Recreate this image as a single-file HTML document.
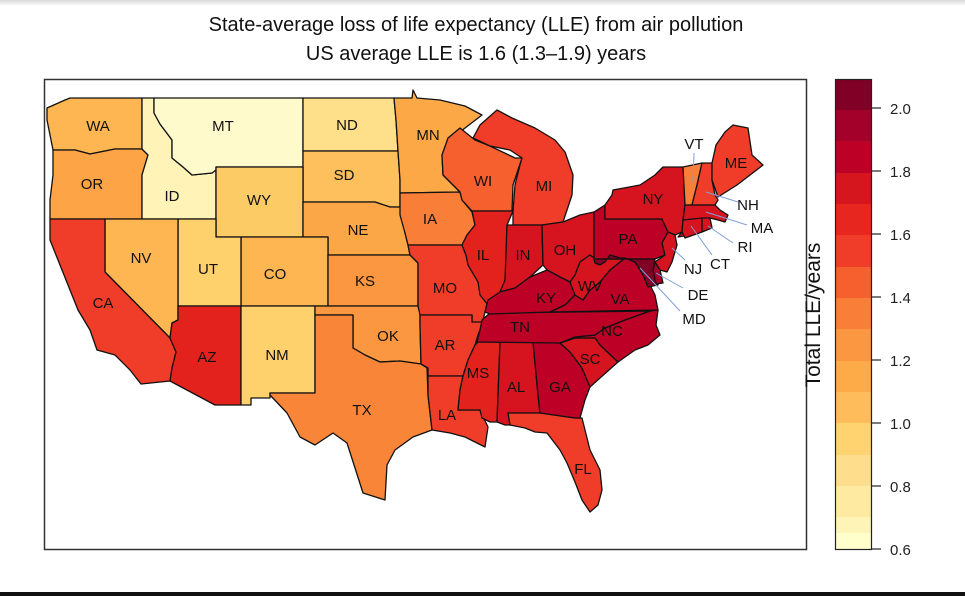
<!DOCTYPE html>
<html><head><meta charset="utf-8"><style>
html,body{margin:0;padding:0;background:#fff;}
body{width:965px;height:596px;overflow:hidden;position:relative;}
svg{position:absolute;left:0;top:0;}
</style></head><body>
<svg width="965" height="596" viewBox="0 0 965 596" xmlns="http://www.w3.org/2000/svg">
<defs><linearGradient id="tg" x1="0" y1="0" x2="0" y2="1"><stop offset="0" stop-color="#d8d8d8"/><stop offset="1" stop-color="#fff"/></linearGradient></defs>
<rect x="0" y="0" width="965" height="6" fill="url(#tg)"/>
<rect x="0" y="592" width="965" height="4" fill="#111"/>
<g font-family="Liberation Sans, sans-serif" font-size="20" text-anchor="middle" fill="#111">
<text x="476" y="31">State-average loss of life expectancy (LLE) from air pollution</text>
<text x="476" y="60">US average LLE is 1.6 (1.3–1.9) years</text>
</g>
<rect x="44.5" y="79.5" width="762" height="470" fill="#fff" stroke="#333" stroke-width="1.5"/>
<g stroke="#111" stroke-width="1.3" stroke-linejoin="round">
<polygon fill="#fdb651" points="47,108 65,100 70,98 142,98 142,149 115,149 90,154 75,150 53,150 50,135 47,120"/>
<polygon fill="#fca446" points="53,150 75,150 90,154 115,149 142,149 148,155 142,175 142,219 50,219 50,200 53,175"/>
<polygon fill="#fff3b8" points="142,98 154,98 154,113 160,124 172,140 172,158 183,167 192,175 212,173 216,170 216,219 142,219 142,175 148,155 142,149"/>
<polygon fill="#fffacc" points="154,98 303,98 303,167 216,167 216,170 212,173 192,175 183,167 172,158 172,140 160,124 154,113"/>
<polygon fill="#fee08b" points="303,98 394,98 396,120 398,151 303,151"/>
<polygon fill="#fdc05c" points="303,151 398,151 400,180 400,207 390,207 375,202 303,202"/>
<polygon fill="#fdcb66" points="216,167 303,167 303,237 216,237"/>
<polygon fill="#fca747" points="303,202 375,202 390,207 400,207 405,233 408,245 410,255 328,255 328,237 303,237"/>
<polygon fill="#fdb651" points="241,237 328,237 328,306 241,306"/>
<polygon fill="#fed16c" points="178,219 216,219 216,237 241,237 241,306 178,306"/>
<polygon fill="#fdb651" points="105,219 178,219 178,320 172,323 170,338 105,272"/>
<polygon fill="#f03d29" points="50,219 105,219 105,272 170,338 176,352 172,368 170,381 141,384 130,370 115,355 97,350 90,330 78,310 70,290 58,260 50,240"/>
<polygon fill="#e3221e" points="170,338 172,323 178,320 178,306 241,306 241,405 215,405 170,381 172,368 176,352"/>
<polygon fill="#fed16c" points="241,306 315,306 315,393 270,393 270,398 251,398 251,405 241,405"/>
<polygon fill="#fb9740" points="328,255 410,255 418,263 418,306 328,306"/>
<polygon fill="#fb9740" points="315,306 420,306 420,325 421,364 400,361 380,362 365,355 353,348 353,315 315,315"/>
<polygon fill="#f98538" points="270,393 315,393 315,315 353,315 353,348 365,355 380,362 400,361 421,364 427,368 428,395 432,430 413,437 395,450 387,465 385,500 363,493 347,443 333,433 315,445 300,437 287,413 270,395"/>
<polygon fill="#fca847" points="394,98 412,98 413,90 417,98 440,100 465,106 482,115 452,138 442,155 443,175 460,192 400,193 400,180 398,151 396,120"/>
<polygon fill="#f97f38" points="400,193 460,192 462,200 472,212 475,225 467,235 462,245 408,245 405,233 400,215"/>
<polygon fill="#f03d29" points="408,245 462,245 467,258 478,282 488,300 485,312 482,325 472,325 472,315 420,315 418,306 418,263 410,255"/>
<polygon fill="#f03d29" points="420,315 472,315 472,322 483,322 478,335 475,345 468,360 463,376 428,376 428,368 421,364 420,325"/>
<polygon fill="#f03d29" points="428,376 463,376 460,390 458,410 480,410 488,427 485,447 465,437 450,433 432,430 428,395"/>
<polygon fill="#e3221e" points="478,342 500,342 497,422 490,422 482,418 480,410 458,410 460,390 463,376 468,360 475,345"/>
<polygon fill="#d5141f" points="500,342 533,342 538,395 540,413 508,413 510,425 505,425 497,422"/>
<polygon fill="#f03d29" points="508,413 540,413 575,418 582,418 585,430 590,450 600,470 602,490 598,505 590,512 582,500 575,482 567,463 560,450 547,433 535,432 525,428 510,425"/>
<polygon fill="#bd0026" points="533,342 560,343 570,352 582,368 590,387 585,400 580,418 575,418 540,413 538,395"/>
<polygon fill="#d5141f" points="560,343 575,338 595,338 600,345 618,362 600,378 590,387 582,368 570,352"/>
<polygon fill="#bd0026" points="560,343 575,337 595,335 605,328 625,320 650,311 658,310 656,325 660,335 648,345 635,350 618,362 600,345 595,338 575,338"/>
<polygon fill="#bd0026" points="482,320 490,313 650,311 625,320 605,328 595,335 575,337 560,343 477,342 480,330"/>
<polygon fill="#f65f2e" points="448,138 460,128 475,140 490,146 515,158 522,158 518,170 513,185 512,211 472,211 462,200 460,192 443,175 442,155"/>
<polygon fill="#f03d29" points="473,138 480,125 497,110 512,118 535,128 555,140 565,152 573,175 572,195 563,222 542,225 513,225 513,211 515,185 520,165 522,158 510,150 490,146"/>
<polygon fill="#e3221e" points="472,211 513,211 507,225 507,280 500,292 495,300 488,305 480,295 478,282 468,265 466,255 462,245 467,235 475,225"/>
<polygon fill="#d5141f" points="507,225 542,225 543,265 530,277 515,288 500,292 505,280"/>
<polygon fill="#d5141f" points="542,225 563,222 580,215 594,212 594,258 590,255 580,262 575,275 570,282 560,277 547,270 543,265"/>
<polygon fill="#bd0026" points="485,312 488,300 500,292 515,288 530,277 547,270 560,277 570,282 575,295 565,305 550,312 490,314"/>
<polygon fill="#bd0026" points="550,312 565,305 575,295 583,300 590,290 600,282 610,270 620,262 625,258 635,262 640,270 650,285 655,295 658,310"/>
<polygon fill="#d5141f" points="570,282 575,275 580,262 590,255 594,258 594,259 605,260 610,255 620,258 625,258 620,262 610,270 600,282 590,290 583,300 575,295"/>
<polygon fill="#bd0026" points="594,212 605,205 605,219 662,219 668,232 662,243 665,255 655,259 594,259"/>
<polygon fill="#d5141f" points="605,205 612,195 613,190 640,185 655,175 663,167 683,167 685,185 685,205 683,220 682,232 675,235 668,232 662,219 605,219"/>
<polygon fill="#d5141f" points="682,232 700,226 690,235 678,237"/>
<polygon fill="#f97f38" points="683,167 702,163 697,185 692,205 685,205"/>
<polygon fill="#f03d29" points="702,163 712,163 712,180 715,195 718,200 715,205 692,205 697,185"/>
<polygon fill="#f03d29" points="712,163 716,145 725,132 733,125 748,128 752,155 763,165 737,185 718,197 712,180"/>
<polygon fill="#d5141f" points="685,205 715,205 720,210 728,215 725,222 718,220 710,218 683,220"/>
<polygon fill="#d5141f" points="683,220 702,218 702,232 685,238 682,232"/>
<polygon fill="#d5141f" points="702,218 710,218 712,228 702,232"/>
<polygon fill="#d5141f" points="668,232 675,235 677,245 672,262 667,272 660,270 655,262 665,255 662,243"/>
<polygon fill="#800026" points="594,259 655,259 653,270 658,285 648,287 643,275 635,262 625,258 620,258 610,255 605,262 600,265 595,263"/>
<polygon fill="#a3002a" points="655,262 660,270 663,283 656,284 653,270"/>
</g>
<g stroke="#7fa0d8" stroke-width="1">
<line x1="694" y1="153" x2="693" y2="183"/>
<line x1="738" y1="202" x2="706" y2="192"/>
<line x1="747" y1="225" x2="706" y2="212"/>
<line x1="733" y1="243" x2="708" y2="226"/>
<line x1="712" y1="255" x2="691" y2="226"/>
<line x1="685" y1="260" x2="672" y2="248"/>
<line x1="683" y1="288" x2="656" y2="273"/>
<line x1="680" y1="311" x2="640" y2="268"/>
</g>
<g font-family="Liberation Sans, sans-serif" font-size="15" text-anchor="middle" fill="#111">
<text x="98" y="131">WA</text><text x="92" y="189">OR</text><text x="223" y="131">MT</text>
<text x="172" y="201">ID</text><text x="347" y="130">ND</text><text x="344" y="180">SD</text>
<text x="259" y="205">WY</text><text x="358" y="235">NE</text><text x="275" y="279">CO</text>
<text x="208" y="274">UT</text><text x="141" y="263">NV</text><text x="103" y="308">CA</text>
<text x="207" y="362">AZ</text><text x="277" y="360">NM</text><text x="365" y="286">KS</text>
<text x="388" y="341">OK</text><text x="362" y="415">TX</text><text x="428" y="140">MN</text>
<text x="430" y="224">IA</text><text x="445" y="293">MO</text><text x="445" y="350">AR</text>
<text x="447" y="420">LA</text><text x="478" y="378">MS</text><text x="516" y="392">AL</text>
<text x="560" y="392">GA</text><text x="590" y="364">SC</text><text x="612" y="336">NC</text>
<text x="583" y="474">FL</text><text x="520" y="332">TN</text><text x="546" y="303">KY</text>
<text x="620" y="304">VA</text><text x="590" y="291">WV</text><text x="483" y="260">IL</text>
<text x="523" y="260">IN</text><text x="565" y="255">OH</text><text x="628" y="244">PA</text>
<text x="653" y="204">NY</text><text x="544" y="191">MI</text><text x="483" y="186">WI</text>
<text x="694" y="149">VT</text><text x="736" y="168">ME</text><text x="748" y="210">NH</text>
<text x="762" y="233">MA</text><text x="745" y="252">RI</text><text x="720" y="269">CT</text>
<text x="693" y="274">NJ</text><text x="698" y="300">DE</text><text x="694" y="324">MD</text>
</g>
<g shape-rendering="crispEdges">
<rect x="835" y="79" width="36" height="32" fill="#800026"/>
<rect x="835" y="110" width="36" height="32" fill="#a3002a"/>
<rect x="835" y="141" width="36" height="32" fill="#bd0026"/>
<rect x="835" y="173" width="36" height="32" fill="#d5161f"/>
<rect x="835" y="204" width="36" height="32" fill="#e6261f"/>
<rect x="835" y="235" width="36" height="32" fill="#f03d29"/>
<rect x="835" y="267" width="36" height="32" fill="#f65f2e"/>
<rect x="835" y="298" width="36" height="32" fill="#f97f38"/>
<rect x="835" y="329" width="36" height="32" fill="#fb9740"/>
<rect x="835" y="361" width="36" height="32" fill="#fdab48"/>
<rect x="835" y="392" width="36" height="32" fill="#febc5b"/>
<rect x="835" y="423" width="36" height="32" fill="#fed370"/>
<rect x="835" y="455" width="36" height="32" fill="#fede8c"/>
<rect x="835" y="486" width="36" height="32" fill="#ffeaa2"/>
<rect x="835" y="517" width="36" height="32" fill="#fff4b8"/>
<rect x="835" y="533" width="36" height="16" fill="#ffffcc"/>
</g>
<rect x="835.5" y="79.5" width="36" height="470" fill="none" stroke="#222" stroke-width="1.2"/>
<g stroke="#222" stroke-width="1.2">
<line x1="871" y1="108" x2="881" y2="108"/><line x1="871" y1="171" x2="881" y2="171"/>
<line x1="871" y1="234" x2="881" y2="234"/><line x1="871" y1="297" x2="881" y2="297"/>
<line x1="871" y1="360" x2="881" y2="360"/><line x1="871" y1="423" x2="881" y2="423"/>
<line x1="871" y1="486" x2="881" y2="486"/><line x1="871" y1="549" x2="881" y2="549"/>
</g>
<g font-family="Liberation Sans, sans-serif" font-size="15" fill="#222">
<text x="890" y="114">2.0</text><text x="890" y="177">1.8</text><text x="890" y="240">1.6</text>
<text x="890" y="303">1.4</text><text x="890" y="366">1.2</text><text x="890" y="429">1.0</text>
<text x="890" y="492">0.8</text><text x="890" y="555">0.6</text>
</g>
<text transform="translate(820,315) rotate(-90)" font-family="Liberation Sans, sans-serif" font-size="21" text-anchor="middle" fill="#111">Total LLE/years</text>
</svg>
</body></html>
